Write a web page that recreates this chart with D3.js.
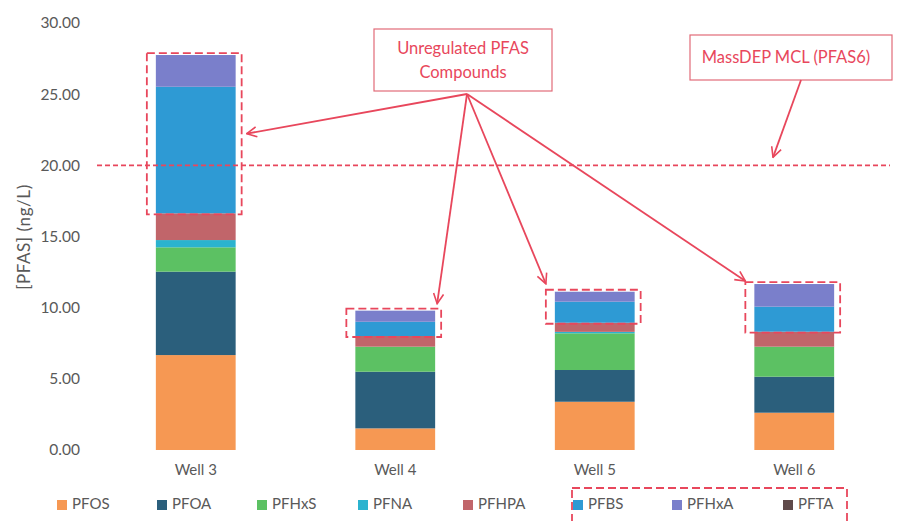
<!DOCTYPE html>
<html>
<head>
<meta charset="utf-8">
<script src="https://cdn.jsdelivr.net/npm/d3@7"></script>
<style>
  body { margin: 0; background: #fff; }
  svg { display: block; }
  text { font-family: Lato, "Open Sans", "Liberation Sans", sans-serif; }
</style>
</head>
<body>
<svg id="chart" width="897" height="521"></svg>
<script>
// PFAS concentrations (ng/L) by well, stacked by compound
const wells = ["Well 3", "Well 4", "Well 5", "Well 6"];
const compounds = ["PFOS", "PFOA", "PFHxS", "PFNA", "PFHPA", "PFBS", "PFHxA", "PFTA"];
const PFOS  = [6.67, 1.52, 3.39, 2.62];
const PFOA  = [5.86, 3.98, 2.23, 2.53];
const PFHxS = [1.71, 1.76, 2.58, 2.11];
const PFNA  = [0.51, 0.00, 0.10, 0.00];
const PFHPA = [1.88, 0.75, 0.64, 1.05];
const PFBS  = [8.89, 1.00, 1.48, 1.76];
const PFHxA = [2.23, 0.78, 0.70, 1.59];
const PFTA  = [0.00, 0.00, 0.00, 0.00];
const yTicks = [0, 5, 10, 15, 20, 25, 30];
const mclValue = 20;
const unregulated = ["PFBS", "PFHxA", "PFTA"];

const colors = {
  PFOS: "#f69853", PFOA: "#2b5f7c", PFHxS: "#5cc163", PFNA: "#2bb3cf",
  PFHPA: "#c1656a", PFBS: "#2e9ad4", PFHxA: "#7a7fcb", PFTA: "#5f4a4a"
};
const red = "#e8475c";
const grey = "#595959";

const series = { PFOS, PFOA, PFHxS, PFNA, PFHPA, PFBS, PFHxA, PFTA };
const rows = wells.map((w, i) => {
  const r = { well: w };
  compounds.forEach(c => r[c] = series[c][i]);
  return r;
});

const svg = d3.select("#chart");

const x = d3.scaleBand().domain(wells).range([96, 894]).paddingInner(0.6).paddingOuter(0.3);
const y = d3.scaleLinear().domain([0, 30]).range([450, 23]);

// y axis
const yAxis = svg.append("g").attr("transform", "translate(80,0)")
  .call(d3.axisLeft(y).tickValues(yTicks).tickFormat(d3.format(".2f")).tickSize(0).tickPadding(0));
yAxis.select(".domain").remove();
yAxis.selectAll("text").attr("fill", grey).style("font-size", "15.5px")
  .style("font-family", "Lato, 'Open Sans', sans-serif");

svg.append("text")
  .attr("transform", "translate(26,237) rotate(-90)")
  .attr("text-anchor", "middle").attr("dominant-baseline", "middle")
  .attr("fill", grey).style("font-size", "17px").style("letter-spacing", "0.6px")
  .text("[PFAS] (ng/L)");

// x axis labels
const xAxis = svg.append("g").attr("transform", "translate(0,464)")
  .call(d3.axisBottom(x).tickSize(0).tickPadding(0));
xAxis.select(".domain").remove();
xAxis.selectAll("text").attr("fill", grey).style("font-size", "15px")
  .style("font-family", "Lato, 'Open Sans', sans-serif");

// stacked bars
const stack = d3.stack().keys(compounds)(rows);
svg.append("g").selectAll("g").data(stack).join("g")
  .attr("fill", d => colors[d.key])
  .selectAll("rect").data(d => d).join("rect")
  .attr("x", d => x(d.data.well))
  .attr("width", x.bandwidth())
  .attr("y", d => y(d[1]))
  .attr("height", d => Math.max(0, y(d[0]) - y(d[1])));

// MassDEP MCL line
svg.append("line")
  .attr("x1", 97).attr("x2", 890)
  .attr("y1", y(mclValue)).attr("y2", y(mclValue))
  .attr("stroke", red).attr("stroke-width", 1.6).attr("stroke-dasharray", "5,3");

// dashed boxes around unregulated compounds
const firstUnreg = stack.find(s => s.key === unregulated[0]);
const lastUnreg = stack.find(s => s.key === unregulated[unregulated.length - 1]);
const boxes = wells.map((w, i) => ({
  x0: x(w) - 9,
  x1: x(w) + x.bandwidth() + 6,
  top: y(lastUnreg[i][1]) - 2,
  bottom: y(firstUnreg[i][0]) + 1
}));
svg.append("g").selectAll("rect").data(boxes).join("rect")
  .attr("x", d => d.x0).attr("y", d => d.top)
  .attr("width", d => d.x1 - d.x0).attr("height", d => d.bottom - d.top)
  .attr("fill", "none").attr("stroke", red).attr("stroke-width", 1.8)
  .attr("stroke-dasharray", "8,4");

// arrow marker
svg.append("defs").append("marker")
  .attr("id", "arrow").attr("viewBox", "0 0 12 12")
  .attr("refX", 11).attr("refY", 6)
  .attr("markerWidth", 12).attr("markerHeight", 12)
  .attr("markerUnits", "userSpaceOnUse")
  .attr("orient", "auto")
  .append("path").attr("d", "M1,1 L11,6 L1,11")
  .attr("fill", "none").attr("stroke", red).attr("stroke-width", 1.6);

// callout: unregulated compounds
const cal1 = svg.append("g");
cal1.append("rect").attr("x", 374).attr("y", 29).attr("width", 178).attr("height", 62)
  .attr("fill", "#fff").attr("stroke", "#e26b78").attr("stroke-width", 1.2);
cal1.append("text").attr("x", 463).attr("y", 54).attr("text-anchor", "middle")
  .attr("fill", red).style("font-size", "16.5px").text("Unregulated PFAS");
cal1.append("text").attr("x", 463).attr("y", 78).attr("text-anchor", "middle")
  .attr("fill", red).style("font-size", "16.5px").text("Compounds");

const origin = [467, 94];
const targets = [
  [boxes[0].x1 + 5, (boxes[0].top + boxes[0].bottom) / 2],
  [boxes[1].x1 - 4, boxes[1].top - 5],
  [boxes[2].x0, boxes[2].top - 6],
  [boxes[3].x0, boxes[3].top - 1]
];
svg.append("g").selectAll("line").data(targets).join("line")
  .attr("x1", origin[0]).attr("y1", origin[1])
  .attr("x2", d => d[0]).attr("y2", d => d[1])
  .attr("stroke", red).attr("stroke-width", 1.8)
  .attr("marker-end", "url(#arrow)");

// callout: MCL
const cal2 = svg.append("g");
cal2.append("rect").attr("x", 690).attr("y", 35).attr("width", 202).attr("height", 45)
  .attr("fill", "#fff").attr("stroke", "#e26b78").attr("stroke-width", 1.2);
cal2.append("text").attr("x", 786).attr("y", 63).attr("text-anchor", "middle")
  .attr("fill", red).style("font-size", "16.5px").text("MassDEP MCL (PFAS6)");
svg.append("line")
  .attr("x1", 801).attr("y1", 80).attr("x2", 773).attr("y2", y(mclValue) - 8)
  .attr("stroke", red).attr("stroke-width", 1.8).attr("marker-end", "url(#arrow)");

// legend
const legendX = [57, 157, 257, 358, 463, 573, 672, 783];
const legend = svg.append("g").selectAll("g").data(compounds).join("g")
  .attr("transform", (d, i) => `translate(${legendX[i]},505)`);
legend.append("rect").attr("x", 0).attr("y", -5).attr("width", 10).attr("height", 10)
  .attr("fill", d => colors[d]);
legend.append("text").attr("x", 15).attr("y", 0).attr("dominant-baseline", "middle")
  .attr("fill", grey).style("font-size", "15px").text(d => d);

// dashed frame around the unregulated legend entries
const li0 = compounds.indexOf(unregulated[0]);
svg.append("rect")
  .attr("x", legendX[li0] - 1).attr("y", 488)
  .attr("width", 275).attr("height", 36)
  .attr("fill", "none").attr("stroke", red).attr("stroke-width", 1.8)
  .attr("stroke-dasharray", "8,4");
</script>
</body>
</html>
